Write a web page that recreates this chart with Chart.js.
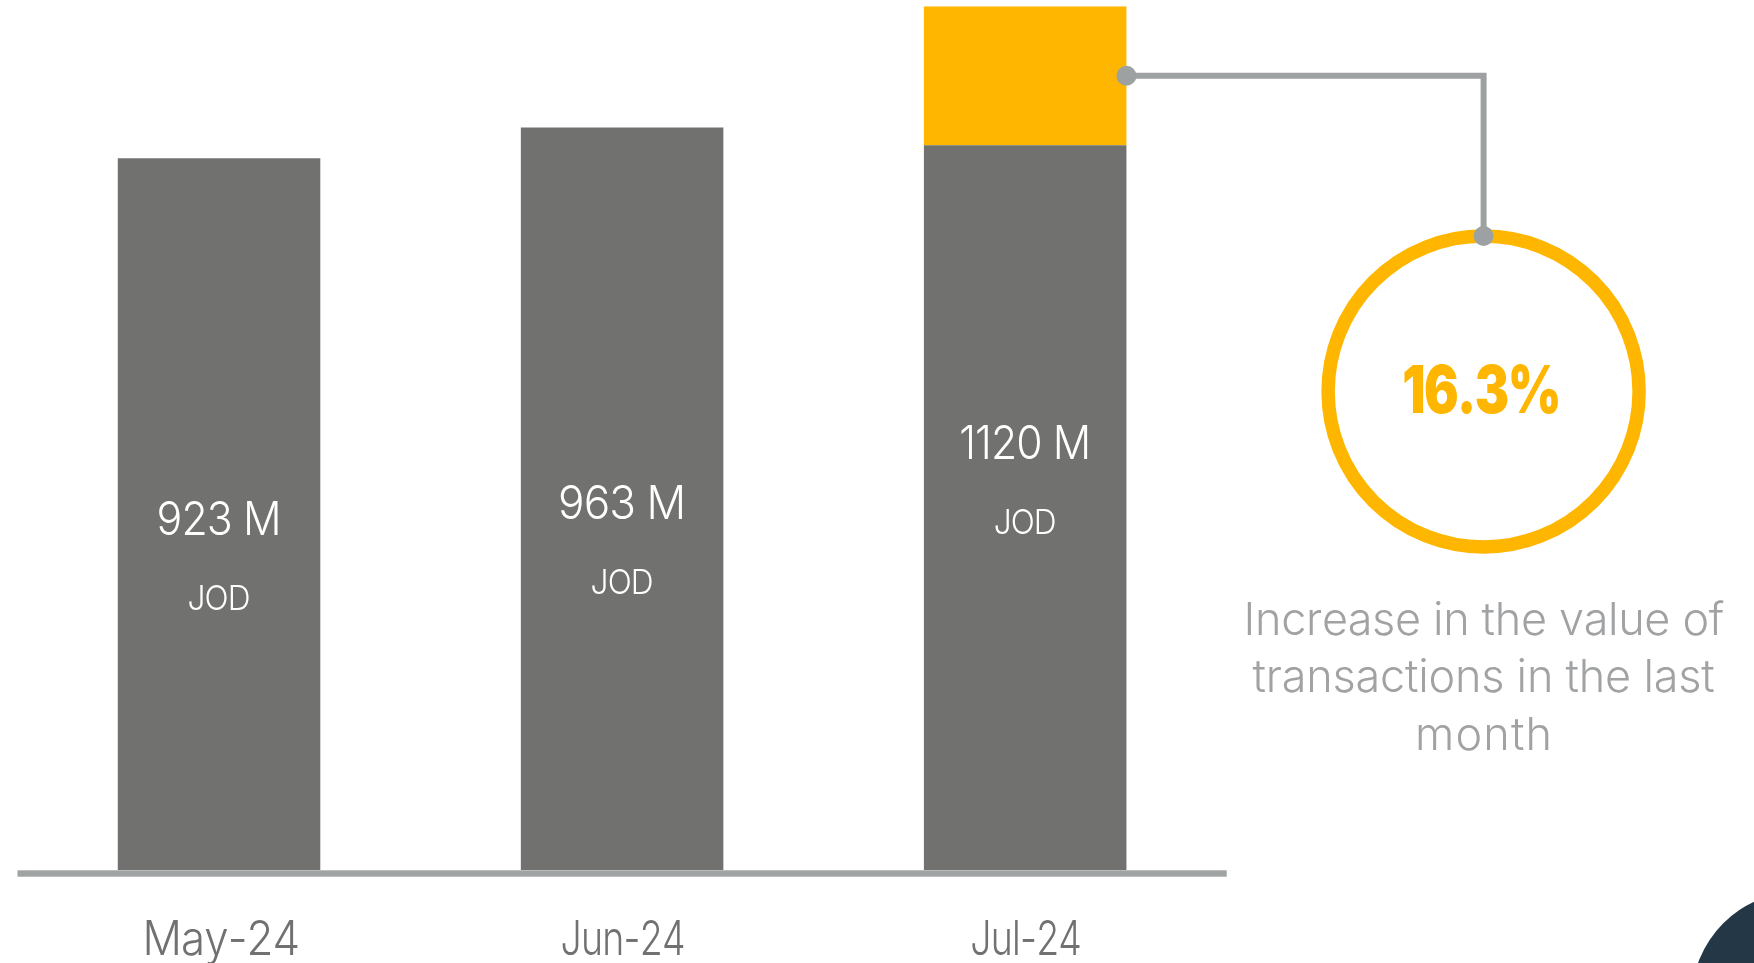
<!DOCTYPE html>
<html>
<head>
<meta charset="utf-8">
<script src="https://cdn.jsdelivr.net/npm/chart.js@4.4.1/dist/chart.umd.min.js"></script>
<style>
html,body{margin:0;padding:0;background:#ffffff;overflow:hidden}
#wrap{width:1754px;height:963px;position:relative}
</style>
</head>
<body>
<div id="wrap"><canvas id="c" width="1754" height="963"></canvas></div>
<script>
// ---- data ----
const categories = ['May-24', 'Jun-24', 'Jul-24'];
const baseValues = [923, 963, 940];
const increaseValues = [0, 0, 180];
const totalValues = [923, 963, 1120];
const unitLabel = 'JOD';
const changeLabel = '16.3%';
const noteLines = ['Increase in the value of', 'transactions in the last', 'month'];

// ---- styles ----
const GRAY_BAR = '#717270';
const YELLOW = '#FFB600';
const BASELINE = '#A0A3A3';
const CONNECTOR = '#9EA1A2';
const AXIS_TEXT = '#707170';
const NOTE_TEXT = '#A0A2A3';
const LIGHT = '300';
const FAMILY = 'Inter, "Open Sans", sans-serif';

function drawFitted(ctx, text, x, y, font, color, targetWidth, lsMin) {
  ctx.save();
  ctx.font = font;
  ctx.fillStyle = color;
  ctx.textAlign = 'left';
  ctx.textBaseline = 'alphabetic';
  let ls = 0, sx = 1;
  const w0 = ctx.measureText(text).width;
  const n = Math.max(1, text.length - 1);
  if (targetWidth) {
    ls = Math.max(lsMin === undefined ? -1 : lsMin, Math.min(4, (targetWidth - w0) / n));
  }
  const w1 = w0 + ls * n;
  if (targetWidth) sx = Math.max(0.78, Math.min(1.2, targetWidth / w1));
  ctx.translate(x - (w1 * sx) / 2, y);
  ctx.scale(sx, 1);
  let cx = 0;
  for (const ch of text) {
    ctx.fillText(ch, cx, 0);
    cx += ctx.measureText(ch).width + ls;
  }
  ctx.restore();
}

const overlay = {
  id: 'overlay',
  afterDatasetsDraw(chart) {
    const ctx = chart.ctx;
    const area = chart.chartArea;
    const xs = chart.scales.x;
    const m0 = chart.getDatasetMeta(0);
    const m1 = chart.getDatasetMeta(1);

    // baseline
    ctx.save();
    ctx.fillStyle = BASELINE;
    ctx.fillRect(area.left, area.bottom, area.right - area.left, 6.4);
    ctx.restore();

    // category labels
    const labelWidths = [153, 120, 105];
    categories.forEach((c, i) => {
      drawFitted(ctx, c, xs.getPixelForValue(i), area.bottom + 85, LIGHT + ' 48px ' + FAMILY, AXIS_TEXT, labelWidths[i]);
    });

    // value labels inside bars
    const valueWidths = [125, 128, 132];
    totalValues.forEach((v, i) => {
      const top = increaseValues[i] > 0 ? m1.data[i].y : m0.data[i].y;
      const bottom = m0.data[i].base;
      const mid = (top + bottom) / 2;
      const x = m0.data[i].x;
      drawFitted(ctx, v + ' M', x, mid + 20.5, LIGHT + ' 47px ' + FAMILY, '#FFFFFF', valueWidths[i]);
      drawFitted(ctx, unitLabel, x, mid + 95.5, LIGHT + ' 34px ' + FAMILY, '#FFFFFF', 63);
    });

    // callout ring + connector
    const last = categories.length - 1;
    const seg = m1.data[last];
    const segMid = (seg.y + seg.base) / 2;
    const segRight = seg.x + seg.width / 2;
    const cx = 1483.6, cy = 391.5, r = 155.5;

    ctx.save();
    ctx.strokeStyle = YELLOW;
    ctx.lineWidth = 13.5;
    ctx.beginPath();
    ctx.arc(cx, cy, r, 0, Math.PI * 2);
    ctx.stroke();

    ctx.strokeStyle = CONNECTOR;
    ctx.lineWidth = 6;
    ctx.lineJoin = 'miter';
    ctx.beginPath();
    ctx.moveTo(segRight, segMid);
    ctx.lineTo(cx, segMid);
    ctx.lineTo(cx, cy - r);
    ctx.stroke();

    ctx.fillStyle = CONNECTOR;
    ctx.beginPath();
    ctx.arc(segRight, segMid, 10, 0, Math.PI * 2);
    ctx.fill();
    ctx.beginPath();
    ctx.arc(cx, cy - r, 10, 0, Math.PI * 2);
    ctx.fill();
    ctx.restore();

    drawFitted(ctx, changeLabel, cx - 3, 413.3, '900 66px ' + FAMILY, YELLOW, 153, -2);

    const noteWidths = [480, 462, 137];
    const noteBase = [634.7, 692.2, 749.6];
    noteLines.forEach((t, i) => {
      drawFitted(ctx, t, cx, noteBase[i], LIGHT + ' 45px ' + FAMILY, NOTE_TEXT, noteWidths[i]);
    });

    // corner decoration
    ctx.save();
    ctx.fillStyle = '#243746';
    ctx.beginPath();
    ctx.arc(1800, 1000, 108.5, 0, Math.PI * 2);
    ctx.fill();
    ctx.restore();
  }
};

function build() {
  new Chart(document.getElementById('c'), {
    type: 'bar',
    data: {
      labels: categories,
      datasets: [
        { label: 'Value', data: baseValues, backgroundColor: GRAY_BAR, borderWidth: 0, stack: 's' },
        { label: 'Increase', data: increaseValues, backgroundColor: YELLOW, borderWidth: 0, stack: 's' }
      ]
    },
    options: {
      responsive: false,
      animation: false,
      events: [],
      layout: { padding: { left: 17.5, right: 527.3, top: 6.3, bottom: 92.7 } },
      datasets: { bar: { categoryPercentage: 1.0, barPercentage: 0.5025 } },
      scales: {
        x: { display: false, stacked: true, grid: { display: false } },
        y: { display: false, stacked: true, min: 0, max: 1120, grid: { display: false } }
      },
      plugins: { legend: { display: false }, tooltip: { enabled: false }, title: { display: false } }
    },
    plugins: [overlay]
  });
}

const loads = [
  '300 48px Inter', '900 66px Inter'
].map(f => (document.fonts && document.fonts.load) ? document.fonts.load(f).catch(() => null) : Promise.resolve());
Promise.all(loads).then(build, build);
</script>
</body>
</html>
